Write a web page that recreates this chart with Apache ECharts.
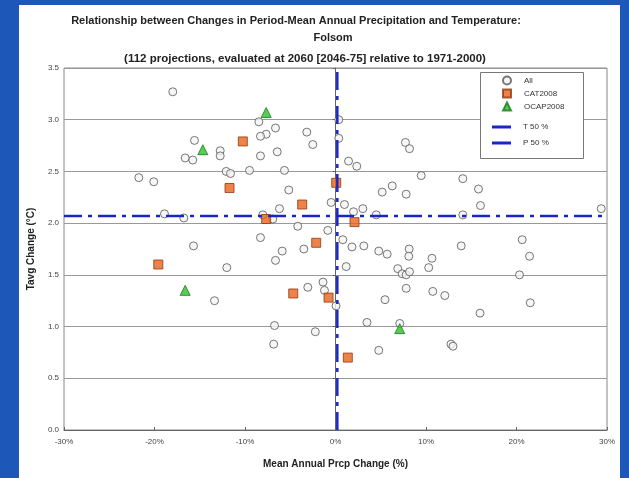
<!DOCTYPE html>
<html>
<head>
<meta charset="utf-8">
<script src="https://cdn.jsdelivr.net/npm/echarts@6/dist/echarts.min.js"></script>
<style>
html,body{margin:0;padding:0;width:629px;height:478px;overflow:hidden;background:#1d58b8;}
#bg{position:absolute;left:19px;top:5px;width:601px;height:473px;background:#fff;}
#main{position:absolute;left:0;top:0;width:629px;height:478px;}
</style>
</head>
<body>
<div id="bg"></div>
<div id="main"></div>
<script>
// Data (x: precipitation change %, y: Tavg change °C)
var allPoints = [
  [-17.98,3.27],[-8.47,2.98],[-6.63,2.92],[-7.66,2.86],[-8.29,2.84],[-3.17,2.88],[-2.51,2.76],
  [0.36,3.00],[0.36,2.82],[-15.58,2.80],[-12.74,2.70],[-12.74,2.65],[-16.61,2.63],[-15.77,2.61],
  [-8.29,2.65],[-6.44,2.69],[-21.73,2.44],[-20.08,2.40],[-12.08,2.50],[-11.60,2.48],[-9.50,2.51],
  [-5.64,2.51],[-5.16,2.32],[-0.48,2.20],[-6.19,2.14],[-18.90,2.09],[-16.76,2.05],[-8.03,2.08],
  [-6.93,2.04],[-4.17,1.97],[-0.85,1.93],[7.73,2.78],[8.18,2.72],[1.44,2.60],[2.35,2.55],
  [9.47,2.46],[14.07,2.43],[6.27,2.36],[5.16,2.30],[7.81,2.28],[15.80,2.33],[0.99,2.18],
  [16.02,2.17],[1.99,2.11],[3.02,2.14],[4.50,2.08],[14.07,2.08],[29.36,2.14],[-8.29,1.86],
  [-15.69,1.78],[-5.89,1.73],[-3.50,1.75],[-6.63,1.64],[-12.01,1.57],[-1.38,1.43],[-3.06,1.38],
  [-1.22,1.35],[0.06,1.20],[-13.37,1.25],[-6.74,1.01],[-2.23,0.95],[-6.83,0.83],[0.81,1.84],
  [1.82,1.77],[3.13,1.78],[4.78,1.73],[5.71,1.70],[8.14,1.75],[8.10,1.68],[10.66,1.66],
  [13.89,1.78],[20.63,1.84],[21.44,1.68],[1.18,1.58],[6.88,1.56],[7.37,1.51],[7.81,1.50],
  [8.18,1.53],[10.30,1.57],[20.33,1.50],[7.81,1.37],[10.75,1.34],[12.08,1.30],[5.47,1.26],
  [21.52,1.23],[15.97,1.13],[3.48,1.04],[7.10,1.03],[12.76,0.83],[12.98,0.81],[4.78,0.77]
];
var cat2008 = [
  [-10.24,2.79],[-11.71,2.34],[0.08,2.39],[-3.68,2.18],[-7.66,2.04],[2.10,2.01],
  [-2.13,1.81],[-19.58,1.60],[-4.67,1.32],[-0.77,1.28],[1.36,0.70]
];
var ocap2008 = [[-7.66,3.07],[-14.66,2.71],[-16.61,1.35],[7.10,0.98]];
var t50 = 2.07;
var p50 = 0.2;
var xTicks = [-30,-20,-10,0,10,20,30];
var yTicks = [0,0.5,1,1.5,2,2.5,3,3.5];

var lineBlue = '#1a26c4';
var dashPattern = [18,6,4,6];
var chart = echarts.init(document.getElementById('main'), null, {renderer:'canvas'});
var font = 'Arial, "Liberation Sans", sans-serif';
chart.setOption({
  backgroundColor: 'transparent',
  animation: false,
  textStyle: {fontFamily: font},
  title: [
    {text: 'Relationship between Changes in Period-Mean Annual Precipitation and Temperature:', left: 291, textAlign: 'center', top: 10,
     textStyle: {fontSize: 11, fontWeight: 'bold', color: '#222', fontFamily: font}},
    {text: 'Folsom', left: 328, textAlign: 'center', top: 27,
     textStyle: {fontSize: 11, fontWeight: 'bold', color: '#222', fontFamily: font}},
    {text: '(112 projections, evaluated at 2060 [2046-75] relative to 1971-2000)', left: 300, textAlign: 'center', top: 48,
     textStyle: {fontSize: 11.5, fontWeight: 'bold', color: '#222', fontFamily: font}}
  ],
  graphic: [
    {type: 'rect', left: 480, top: 72, shape: {width: 103, height: 86},
     style: {fill: '#fff', stroke: '#777', lineWidth: 1}, z: 5}
  ],
  legend: [
    {orient: 'vertical', left: 497, top: 70.5, itemWidth: 8, itemHeight: 8, itemGap: 3, z: 10,
     data: ['All','CAT2008','OCAP2008'],
     textStyle: {fontSize: 8, color: '#333', fontFamily: font, padding: [0,0,0,8]}},
    {orient: 'vertical', left: 487, top: 118, itemWidth: 19, itemHeight: 3, itemGap: 8, z: 10,
     data: [{name:'T 50 %', icon:'rect'}, {name:'P 50 %', icon:'rect'}],
     textStyle: {fontSize: 8, color: '#333', fontFamily: font, padding: [0,0,0,7]}}
  ],
  grid: {left: 64, right: 22, top: 68, bottom: 48, show: true, borderColor: '#888', borderWidth: 1, backgroundColor: 'transparent'},
  xAxis: {
    type: 'value', min: -30, max: 30, interval: 10,
    name: 'Mean Annual Prcp Change (%)', nameLocation: 'middle', nameGap: 29,
    nameTextStyle: {fontSize: 10, fontWeight: 'bold', color: '#222', fontFamily: font},
    axisLine: {show: true, onZero: false, lineStyle: {color: '#666'}},
    axisTick: {show: true, inside: true, length: 3, lineStyle: {color: '#666'}},
    axisLabel: {fontSize: 8, color: '#444', margin: 8, formatter: function(v){return v + '%';}},
    splitLine: {show: false}
  },
  yAxis: {
    type: 'value', min: 0, max: 3.5, interval: 0.5,
    name: 'Tavg Change (\u00B0C)', nameLocation: 'middle', nameGap: 28, nameRotate: 90,
    nameTextStyle: {fontSize: 10, fontWeight: 'bold', color: '#222', fontFamily: font},
    axisLine: {show: true, lineStyle: {color: '#666'}},
    axisTick: {show: true, length: 3, lineStyle: {color: '#666'}},
    axisLabel: {fontSize: 8, color: '#444', margin: 5, formatter: function(v){return v.toFixed(1);}},
    splitLine: {show: true, lineStyle: {color: '#999', width: 1}}
  },
  series: [
    {name: 'All', type: 'scatter', data: allPoints, symbol: 'circle', symbolSize: 8,
     itemStyle: {color: '#f4f4f4', borderColor: '#555', borderWidth: 1}, z: 2},
    {name: 'CAT2008', type: 'scatter', data: cat2008, symbol: 'rect', symbolSize: 9,
     itemStyle: {color: '#e8641e', borderColor: '#8f3a0c', borderWidth: 1}, z: 3},
    {name: 'OCAP2008', type: 'scatter', data: ocap2008, symbol: 'triangle', symbolSize: 10,
     itemStyle: {color: '#2cbf2c', borderColor: '#1a7a1a', borderWidth: 1}, z: 3},
    {name: 'T 50 %', type: 'line', data: [[-30, t50],[30, t50]], symbol: 'none', z: 4,
     lineStyle: {color: lineBlue, width: 2.5, type: dashPattern}, itemStyle: {color: lineBlue}},
    {name: 'P 50 %', type: 'line', data: [[p50, 0],[p50, 3.5]], symbol: 'none', z: 4,
     lineStyle: {color: lineBlue, width: 2.5, type: dashPattern}, itemStyle: {color: lineBlue}}
  ]
});
</script>
</body>
</html>
